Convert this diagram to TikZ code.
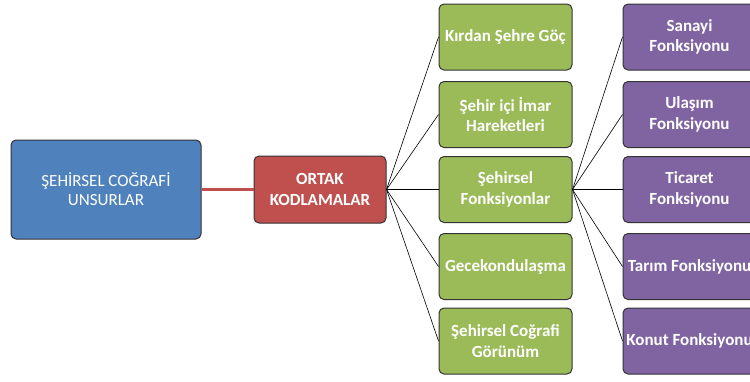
\documentclass[tikz,border=0pt]{standalone}
\usepackage{fontspec}
\setmainfont{Carlito}
\usepackage{tikz}

\definecolor{boxblue}{HTML}{4F81BD}
\definecolor{boxred}{HTML}{C0504D}
\definecolor{boxgreen}{HTML}{9BBB59}
\definecolor{boxpurple}{HTML}{8064A2}

\tikzset{
  box/.style={draw=black!80, line width=1pt, rounded corners=5pt, text=white,
    align=center, inner sep=2pt, font=\bfseries\fontsize{17}{20.5}\selectfont},
  mainbox/.style={box, fill=boxblue, minimum width=190pt, minimum height=99pt,
    font=\fontsize{17}{19}\selectfont},
  codebox/.style={box, fill=boxred, minimum width=132pt, minimum height=67pt},
  themebox/.style={box, fill=boxgreen, minimum width=133pt, minimum height=66pt},
  funcbox/.style={box, fill=boxpurple, minimum width=133pt, minimum height=66pt},
  link/.style={black, line width=0.6pt},
  redlink/.style={boxred, line width=3.5pt}
}

\begin{document}
\begin{tikzpicture}[x=1pt,y=-1pt]
 \useasboundingbox (0,0) rectangle (750,381);
 \clip (0,0) rectangle (750,381);

 % left side
 \node [mainbox] (sehirsel) at (106,189.5) {ŞEHİRSEL COĞRAFİ\\UNSURLAR};
 \node [codebox] (ortak) at (320,189.5) {ORTAK\\KODLAMALAR};
 \draw [redlink] (sehirsel) -- (ortak);

 % middle column
 \node [themebox] (goc)     at (505.5,37)    {Kırdan Şehre Göç};
 \node [themebox] (imar)    at (505.5,114.5) {Şehir içi İmar\\Hareketleri};
 \node [themebox] (fonks)   at (505.5,189.5) {Şehirsel\\Fonksiyonlar};
 \node [themebox] (gecekon) at (505.5,266.5) {Gecekondulaşma};
 \node [themebox] (gorunum) at (505.5,341)   {Şehirsel Coğrafi\\Görünüm};

 % right column
 \node [funcbox] (sanayi)  at (689.5,37)    {Sanayi\\Fonksiyonu};
 \node [funcbox] (ulasim)  at (689.5,114.5) {Ulaşım\\Fonksiyonu};
 \node [funcbox] (ticaret) at (689.5,189.5) {Ticaret\\Fonksiyonu};
 \node [funcbox] (tarim)   at (689.5,266.5) {Tarım Fonksiyonu};
 \node [funcbox] (konut)   at (689.5,341)   {Konut Fonksiyonu};

 % connectors
 \draw [link] (ortak.east) -- (goc.west);
 \draw [link] (ortak.east) -- (imar.west);
 \draw [link] (ortak.east) -- (fonks.west);
 \draw [link] (ortak.east) -- (gecekon.west);
 \draw [link] (ortak.east) -- (gorunum.west);

 \draw [link] (fonks.east) -- (sanayi.west);
 \draw [link] (fonks.east) -- (ulasim.west);
 \draw [link] (fonks.east) -- (ticaret.west);
 \draw [link] (fonks.east) -- (tarim.west);
 \draw [link] (fonks.east) -- (konut.west);
\end{tikzpicture}
\end{document}
